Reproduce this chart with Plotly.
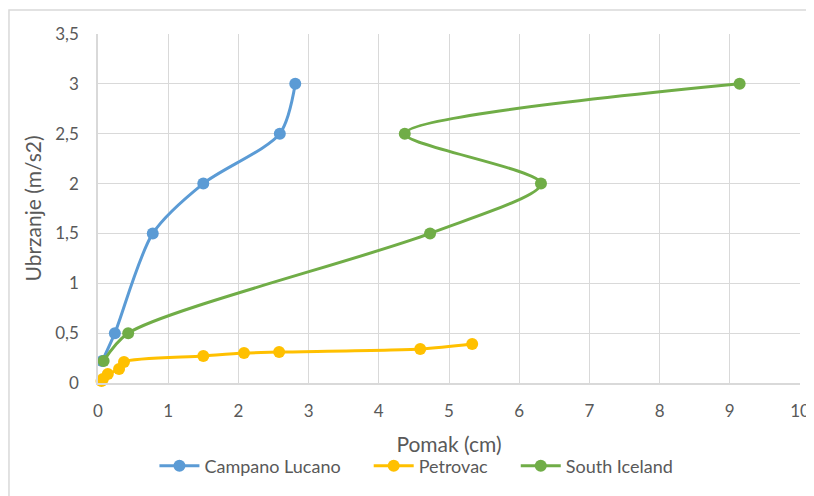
import plotly.graph_objects as go

# data
campano_x = [0.06, 0.24, 0.78, 1.50, 2.59, 2.81]
campano_y = [0.22, 0.5, 1.5, 2.0, 2.5, 3.0]

petrovac_x = [0.05, 0.07, 0.14, 0.30, 0.37, 1.50, 2.08, 2.58, 4.59, 5.33]
petrovac_y = [0.02, 0.04, 0.09, 0.14, 0.21, 0.27, 0.30, 0.31, 0.34, 0.39]

iceland_x = [0.08, 0.43, 4.73, 6.31, 4.37, 9.14]
iceland_y = [0.22, 0.5, 1.5, 2.0, 2.5, 3.0]

font = "Lato, 'Open Sans', sans-serif"
grey = "#595959"
grid = "#D9D9D9"
pad = "\u00a0" * 5  # extra room between legend entries


def series(name, x, y, color):
    return go.Scatter(
        x=x, y=y, name=name + pad,
        mode="lines+markers",
        line=dict(color=color, width=3, shape="spline", smoothing=0.8),
        marker=dict(color=color, size=12),
        cliponaxis=False,
    )


fig = go.Figure([
    series("Campano Lucano", campano_x, campano_y, "#5B9BD5"),
    series("Petrovac", petrovac_x, petrovac_y, "#FFC000"),
    series("South Iceland", iceland_x, iceland_y, "#70AD47"),
])

# the page has an 8px body margin, so the figure is 8px smaller than the window
fig.update_layout(
    width=806, height=488,
    margin=dict(l=90, r=14, t=26, b=113, autoexpand=False),
    paper_bgcolor="white", plot_bgcolor="white",
    separators=", ",
    font=dict(family=font, size=17, color=grey),
    legend=dict(orientation="h", x=0.47, xanchor="center", y=-0.238, yanchor="middle",
                font=dict(size=18, color=grey), itemwidth=40, traceorder="normal"),
    xaxis=dict(range=[0, 10], dtick=1, showgrid=True, gridcolor=grid, gridwidth=1.3,
               showline=True, linecolor=grid, linewidth=1.5, zeroline=False,
               ticks="", ticklabelstandoff=12, automargin=False,
               title=dict(text="Pomak (cm)", font=dict(size=21, color=grey), standoff=17)),
    yaxis=dict(range=[0, 3.5], dtick=0.5, showgrid=True, gridcolor=grid, gridwidth=1.3,
               showline=True, linecolor=grid, linewidth=1.5, zeroline=False,
               ticks="", ticklabelstandoff=14, automargin=False,
               title=dict(text="Ubrzanje (m/s2)", font=dict(size=21, color=grey), standoff=8)),
    shapes=[dict(type="rect", xref="paper", yref="paper",
                 x0=-0.1268, x1=1.05, y0=-0.35, y1=1.0688,
                 line=dict(color=grid, width=1.5), layer="below")],
)

fig.write_html("out.html")
